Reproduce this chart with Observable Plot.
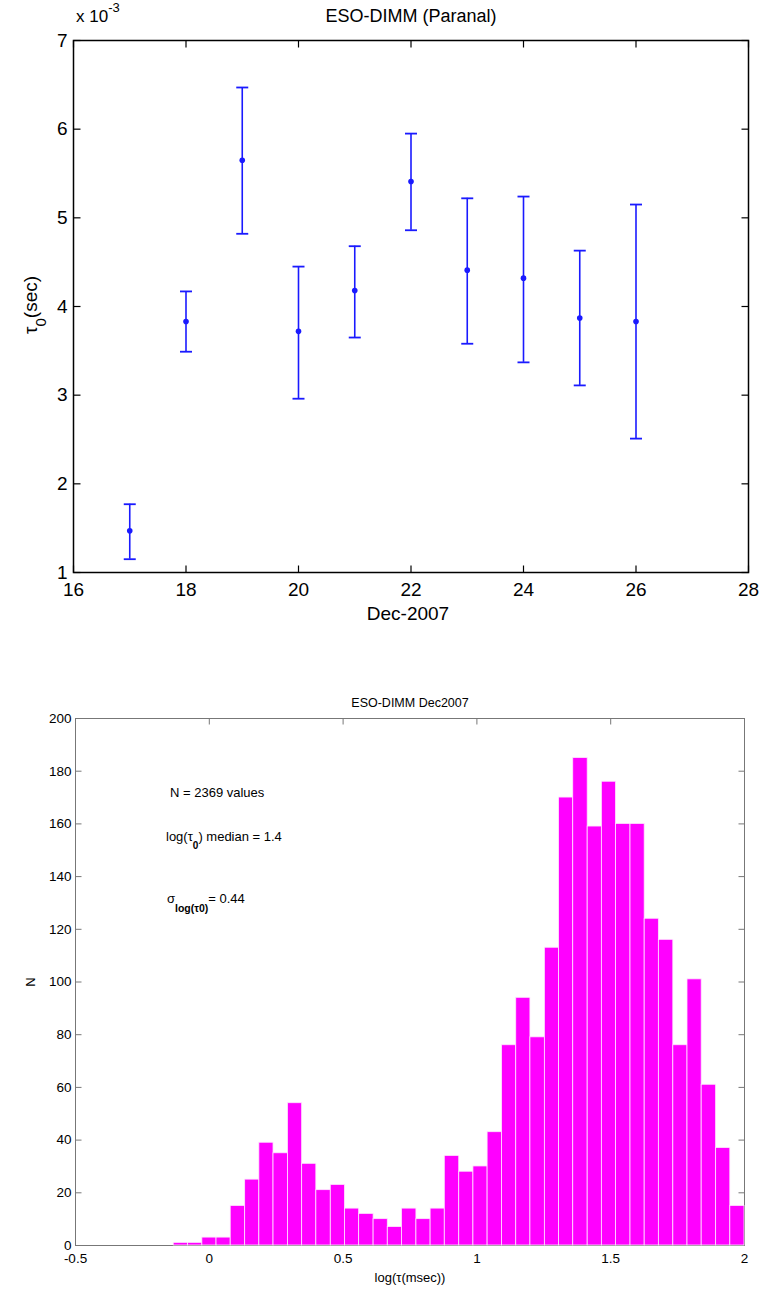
<!DOCTYPE html>
<html><head><meta charset="utf-8">
<script src="https://cdn.jsdelivr.net/npm/d3@7"></script>
<script src="https://cdn.jsdelivr.net/npm/@observablehq/plot@0.6"></script>
<style>
html,body{margin:0;padding:0;background:#fff}
body{width:762px;height:1292px;position:relative;overflow:hidden;font-family:"Liberation Sans",Arial,sans-serif;color:#000}
.chart{position:absolute;left:0}
.lbl{position:absolute;white-space:nowrap;line-height:1;color:#000}
.c{transform:translate(-50%,-50%)}
.l{transform:translate(0,-50%)}
.rot{transform:translate(-50%,-50%) rotate(-90deg)}
sub,sup{line-height:0}
</style></head><body>
<div id="top" class="chart" style="top:0"></div>
<div id="bot" class="chart" style="top:650px"></div>

<div class="lbl c" style="left:411px;top:16px;font-size:18px">ESO-DIMM (Paranal)</div>
<div class="lbl" style="left:76px;top:8px;font-size:17px">x 10<sup style="font-size:13px;position:relative;top:-3px">-3</sup></div>
<div class="lbl c" style="left:408px;top:613px;font-size:19px">Dec-2007</div>
<div class="lbl rot" style="left:30px;top:305px;font-size:19px">τ<sub style="font-size:15px;position:relative;top:4px">0</sub>(sec)</div>

<div class="lbl c" style="left:410px;top:703px;font-size:12.5px">ESO-DIMM Dec2007</div>
<div class="lbl c" style="left:410px;top:1277px;font-size:13px">log(τ(msec))</div>
<div class="lbl rot" style="left:30px;top:982px;font-size:13px">N</div>
<div class="lbl l" style="left:170px;top:792px;font-size:13px">N = 2369 values</div>
<div class="lbl l" style="left:166px;top:836px;font-size:13px">log(τ<sub style="font-size:10px;font-weight:bold;position:relative;top:4px">0</sub>) median = 1.4</div>
<div class="lbl l" style="left:167px;top:898px;font-size:13px">σ<sub style="font-size:10.5px;font-weight:bold;position:relative;top:5px">log(τ0)</sub>= 0.44</div>

<script>
// ---- Top chart data (tau0, units of 1e-3 sec) ----
const days = [17, 18, 19, 20, 21, 22, 23, 24, 25, 26];
const tauMean = [1.47, 3.83, 5.65, 3.72, 4.18, 5.41, 4.41, 4.32, 3.87, 3.83];
const tauLow  = [1.15, 3.49, 4.82, 2.96, 3.65, 4.86, 3.58, 3.37, 3.11, 2.51];
const tauHigh = [1.77, 4.17, 6.47, 4.45, 4.68, 5.95, 5.22, 5.24, 4.63, 5.15];
const topXTicks = [16, 18, 20, 22, 24, 26, 28];
const topYTicks = [1, 2, 3, 4, 5, 6, 7];

// ---- Bottom histogram data ----
const binEdges = [-0.133, -0.080, -0.026, 0.027, 0.080, 0.134, 0.187, 0.240, 0.294, 0.347,
  0.400, 0.454, 0.507, 0.560, 0.614, 0.667, 0.720, 0.774, 0.827, 0.880,
  0.934, 0.987, 1.040, 1.094, 1.147, 1.200, 1.254, 1.307, 1.360, 1.414,
  1.467, 1.520, 1.574, 1.627, 1.680, 1.734, 1.787, 1.840, 1.894, 1.947, 2.000];
const counts = [1, 1, 3, 3, 15, 25, 39, 35, 54, 31,
  21, 23, 14, 12, 10, 7, 14, 10, 14, 34,
  28, 30, 43, 76, 94, 79, 113, 170, 185, 159,
  176, 160, 160, 124, 116, 76, 101, 61, 37, 15];
const botXTicks = [-0.5, 0, 0.5, 1, 1.5, 2];
const botYTicks = [0, 20, 40, 60, 80, 100, 120, 140, 160, 180, 200];

const errData = days.map((d, i) => ({day: d, mean: tauMean[i], lo: tauLow[i], hi: tauHigh[i]}));
const bins = counts.map((c, i) => ({x1: binEdges[i], x2: binEdges[i + 1], n: c}));

// custom line symbols (tick marks and error-bar caps)
const sym = (x0, y0, x1, y1) => ({draw(ctx) { ctx.moveTo(x0, y0); ctx.lineTo(x1, y1); }});
const capSym = sym(-6, 0, 6, 0);

function frameTicks(xt, yt, len, color, w) {
  return [
    Plot.dot(xt, {x: d => d, frameAnchor: "bottom", symbol: sym(0, 0, 0, -len), stroke: color, strokeWidth: w}),
    Plot.dot(xt, {x: d => d, frameAnchor: "top", symbol: sym(0, 0, 0, len), stroke: color, strokeWidth: w}),
    Plot.dot(yt, {y: d => d, frameAnchor: "left", symbol: sym(0, 0, len, 0), stroke: color, strokeWidth: w}),
    Plot.dot(yt, {y: d => d, frameAnchor: "right", symbol: sym(0, 0, -len, 0), stroke: color, strokeWidth: w})
  ];
}

const blue = "#1a1aff";
const topPlot = Plot.plot({
  width: 762, height: 650,
  marginLeft: 73, marginRight: 14, marginTop: 40, marginBottom: 78,
  style: {fontFamily: '"Liberation Sans",Arial,sans-serif', fontSize: "19px", color: "#000", background: "transparent", overflow: "visible"},
  x: {domain: [16, 28], ticks: topXTicks, tickFormat: d => String(d), tickSize: 0, tickPadding: 10, label: null},
  y: {domain: [1, 7], ticks: topYTicks, tickFormat: d => String(d), tickSize: 0, tickPadding: 6, label: null},
  marks: [
    ...frameTicks(topXTicks, topYTicks, 7, "#000", 1.2),
    Plot.frame({stroke: "#000", strokeWidth: 1.5}),
    Plot.ruleX(errData, {x: "day", y1: "lo", y2: "hi", stroke: blue, strokeWidth: 1.6}),
    Plot.dot(errData, {x: "day", y: "hi", symbol: capSym, stroke: blue, strokeWidth: 1.8}),
    Plot.dot(errData, {x: "day", y: "lo", symbol: capSym, stroke: blue, strokeWidth: 1.8}),
    Plot.dot(errData, {x: "day", y: "mean", r: 2.8, fill: blue})
  ]
});
document.getElementById("top").append(topPlot);

const botPlot = Plot.plot({
  width: 762, height: 642,
  marginLeft: 75, marginRight: 18, marginTop: 68, marginBottom: 47,
  style: {fontFamily: '"Liberation Sans",Arial,sans-serif', fontSize: "13.5px", color: "#000", background: "transparent", overflow: "visible"},
  x: {domain: [-0.5, 2], ticks: botXTicks, tickFormat: d => String(d), tickSize: 0, tickPadding: 8, label: null},
  y: {domain: [0, 200], ticks: botYTicks, tickFormat: d => String(d), tickSize: 0, tickPadding: 4, label: null},
  marks: [
    ...frameTicks(botXTicks, botYTicks, 6, "#777", 1),
    Plot.frame({stroke: "#777", strokeWidth: 1}),
    Plot.rectY(bins, {x1: "x1", x2: "x2", y: "n", fill: "#ff00ff", stroke: "#ffe6ff", strokeWidth: 0.8})
  ]
});
document.getElementById("bot").append(botPlot);
</script>
</body></html>
